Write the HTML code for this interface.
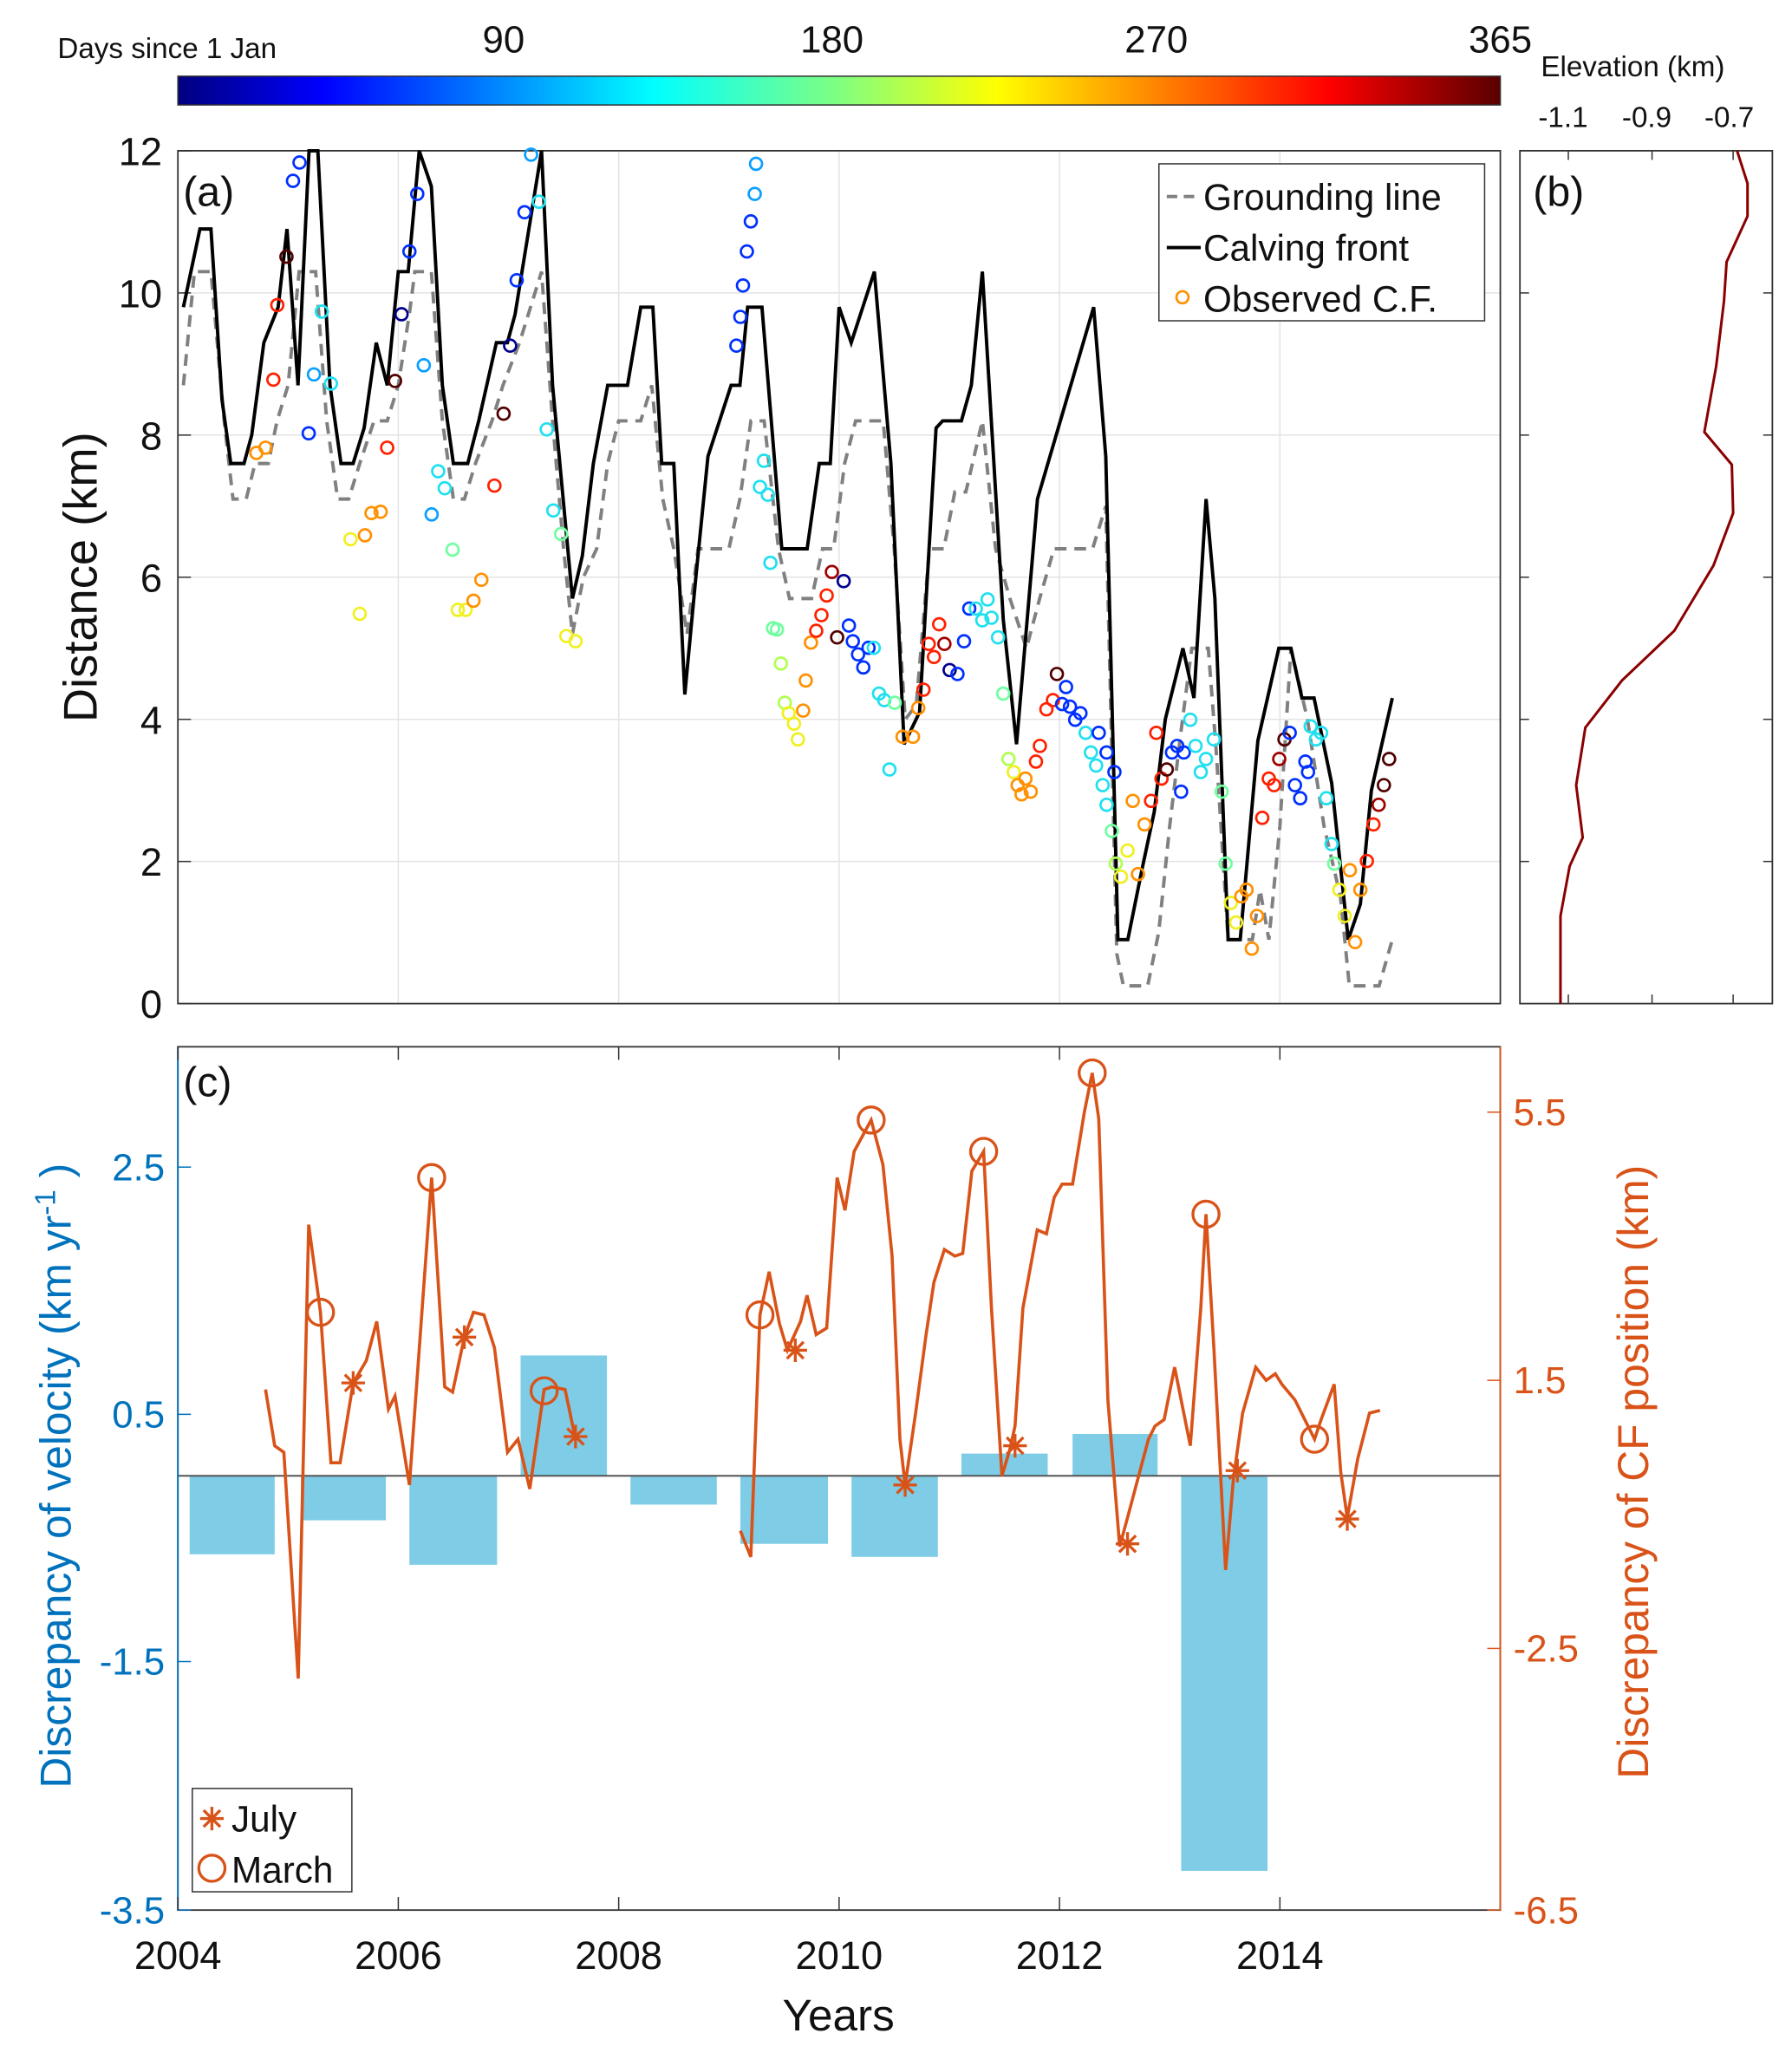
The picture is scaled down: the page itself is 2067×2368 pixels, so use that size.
<!DOCTYPE html>
<html><head><meta charset="utf-8"><style>
html,body{margin:0;padding:0;background:#fff;}
svg{display:block;font-family:"Liberation Sans",Arial,sans-serif;}
</style></head><body>
<svg id="s" width="2067" height="2368" viewBox="0 0 1370 1569" xmlns="http://www.w3.org/2000/svg">
<defs>
<linearGradient id="jet" x1="0" x2="1" y1="0" y2="0">
<stop offset="0" stop-color="#00007f"/><stop offset="0.11" stop-color="#0000ff"/>
<stop offset="0.36" stop-color="#00ffff"/><stop offset="0.5" stop-color="#80ff80"/>
<stop offset="0.62" stop-color="#ffff00"/><stop offset="0.87" stop-color="#ff0000"/>
<stop offset="1" stop-color="#5a0000"/></linearGradient>
</defs>
<rect width="1370" height="1569" fill="#fff"/>
<!-- colorbar -->
<rect x="136" y="58" width="1011" height="22" fill="url(#jet)" stroke="#333" stroke-width="1"/>
<g font-size="29" fill="#111" text-anchor="middle">
<text x="385" y="40">90</text><text x="636" y="40">180</text><text x="884" y="40">270</text><text x="1147" y="40">365</text></g>
<text x="44" y="44" font-size="22" fill="#111">Days since 1 Jan</text>
<text x="1178" y="58" font-size="22" fill="#111">Elevation (km)</text>
<g font-size="22" fill="#111" text-anchor="middle"><text x="1195" y="97">-1.1</text><text x="1259" y="97">-0.9</text><text x="1322" y="97">-0.7</text></g>
<g id="ga"></g>
<g id="gc"></g>
</svg>
<script>
const NS="http://www.w3.org/2000/svg",S=document.getElementById('s');
function el(t,a,p,txt){const e=document.createElementNS(NS,t);for(const k in a)e.setAttribute(k,a[k]);if(txt!==undefined)e.textContent=txt;(p||S).appendChild(e);return e;}
const X=t=>136+(t-2004)*84.25, Y=v=>767-54.33*v;
const ga=document.getElementById('ga'),gc=document.getElementById('gc');
// panel a grid
for(let y=2;y<=10;y+=2)el('line',{x1:136,x2:1147,y1:Y(y),y2:Y(y),stroke:'#e3e3e3','stroke-width':1},ga);
for(let t=2006;t<=2014;t+=2)el('line',{x1:X(t),x2:X(t),y1:115,y2:767,stroke:'#e3e3e3','stroke-width':1},ga);
el('rect',{x:136,y:115,width:1011,height:652,fill:'none',stroke:'#333','stroke-width':1.2},ga);
for(let y=0;y<=12;y+=2){el('text',{x:124,y:Y(y)+11,'font-size':30,'text-anchor':'end',fill:'#111'},ga,String(y));
 el('line',{x1:136,x2:146,y1:Y(y),y2:Y(y),stroke:'#333'},ga);}
el('text',{transform:'translate(74,441) rotate(-90)','font-size':36,'text-anchor':'middle',fill:'#111'},ga,'Distance (km)');
el('text',{x:140,y:157,'font-size':32,fill:'#111'},ga,'(a)');
// grounding line
const gl=[[2004.05,8.7],[2004.15,10.3],[2004.3,10.3],[2004.42,8.2],[2004.5,7.1],[2004.62,7.1],[2004.7,7.6],[2004.82,7.6],[2004.9,8.2],[2005.0,8.7],[2005.1,10.3],[2005.25,10.3],[2005.35,8.2],[2005.45,7.1],[2005.55,7.1],[2005.65,7.6],[2005.78,8.2],[2005.9,8.2],[2006.0,8.7],[2006.1,9.7],[2006.15,10.3],[2006.3,10.3],[2006.4,8.2],[2006.5,7.1],[2006.6,7.1],[2006.7,7.6],[2006.85,8.2],[2006.95,8.7],[2007.1,9.3],[2007.3,10.3],[2007.4,8.2],[2007.5,6.4],[2007.58,5.2],[2007.68,6.0],[2007.8,6.4],[2007.9,7.6],[2008.0,8.2],[2008.2,8.2],[2008.3,8.7],[2008.4,7.1],[2008.5,6.4],[2008.62,5.2],[2008.72,6.4],[2009.0,6.4],[2009.1,7.1],[2009.2,8.2],[2009.32,8.2],[2009.45,6.4],[2009.55,5.7],[2009.75,5.7],[2009.85,6.4],[2009.95,6.4],[2010.05,7.6],[2010.15,8.2],[2010.4,8.2],[2010.5,6.4],[2010.6,4.0],[2010.7,4.2],[2010.82,6.4],[2010.95,6.4],[2011.05,7.2],[2011.15,7.2],[2011.3,8.2],[2011.42,6.4],[2011.55,5.7],[2011.7,5.0],[2011.82,5.7],[2011.95,6.4],[2012.3,6.4],[2012.42,7.0],[2012.52,0.7],[2012.58,0.25],[2012.8,0.25],[2012.9,1.0],[2013.0,2.5],[2013.1,3.8],[2013.2,5.0],[2013.35,5.0],[2013.42,3.6],[2013.53,0.9],[2013.75,0.9],[2013.82,1.6],[2013.9,0.9],[2014.0,2.5],[2014.1,5.0],[2014.25,4.0],[2014.4,2.5],[2014.55,1.5],[2014.63,0.25],[2014.9,0.25],[2015.02,0.9]];
el('polyline',{points:gl.map(p=>X(p[0])+','+Y(p[1])).join(' '),fill:'none',stroke:'#808080','stroke-width':2.6,'stroke-dasharray':'9,6'},ga);
const cf=[[2004.05,9.8],[2004.2,10.9],[2004.3,10.9],[2004.4,8.5],[2004.48,7.6],[2004.6,7.6],[2004.67,8.0],[2004.78,9.3],[2004.91,9.8],[2004.99,10.9],[2005.09,8.7],[2005.19,12],[2005.27,12],[2005.38,8.7],[2005.48,7.6],[2005.59,7.6],[2005.69,8.1],[2005.8,9.3],[2005.9,8.7],[2006.0,10.3],[2006.09,10.3],[2006.19,12],[2006.3,11.5],[2006.4,8.7],[2006.5,7.6],[2006.63,7.6],[2006.73,8.2],[2006.89,9.3],[2006.99,9.3],[2007.06,9.7],[2007.3,12],[2007.4,8.7],[2007.49,7.2],[2007.58,5.7],[2007.67,6.3],[2007.77,7.6],[2007.9,8.7],[2008.08,8.7],[2008.2,9.8],[2008.31,9.8],[2008.39,7.6],[2008.5,7.6],[2008.6,4.35],[2008.7,6.0],[2008.81,7.7],[2009.02,8.7],[2009.1,8.7],[2009.17,9.8],[2009.3,9.8],[2009.48,6.4],[2009.71,6.4],[2009.82,7.6],[2009.92,7.6],[2010.0,9.8],[2010.11,9.3],[2010.32,10.3],[2010.47,7.6],[2010.59,3.65],[2010.73,4.1],[2010.88,8.1],[2010.94,8.2],[2011.11,8.2],[2011.2,8.7],[2011.3,10.3],[2011.49,5.4],[2011.61,3.65],[2011.8,7.1],[2012.31,9.8],[2012.42,7.7],[2012.53,0.9],[2012.62,0.9],[2012.75,1.9],[2012.86,2.7],[2012.96,4.0],[2013.12,5.0],[2013.22,4.3],[2013.33,7.1],[2013.41,5.7],[2013.53,0.9],[2013.64,0.9],[2013.8,3.7],[2013.99,5.0],[2014.1,5.0],[2014.2,4.3],[2014.31,4.3],[2014.47,3.1],[2014.62,0.9],[2014.73,1.4],[2014.83,3.0],[2015.02,4.3]];
el('polyline',{points:cf.map(p=>X(p[0])+','+Y(p[1])).join(' '),fill:'none',stroke:'#000','stroke-width':2.6},ga);
// observed circles (display coords)
const C={D:'#00008f',B:'#0030ff',b:'#0a9fff',c:'#20e0f0',g:'#70ffa0',l:'#b0ff50',y:'#f0f020',o:'#ff9000',r:'#ff2000',R:'#a00000',K:'#500000'};
const obs="196,346,o 203,342,o 209,290,r 212,233,r 219,196,K 224,138,B 229,124,B 236,331,B 240,286,b 246,238,c 253,293,c 268,412,y 275,469,y 279,409,o 284,392,o 291,391,o 296,342,r 302,291,K 307,240,D 313,192,B 319,148,B 324,279,b 330,393,b 335,360,c 340,373,c 346,420,g 350,466,y 356,466,y 362,459,o 368,443,o 378,371,r 385,316,K 390,264,D 395,214,B 401,162,B 406,118,b 412,154,c 418,328,c 423,390,c 429,408,g 433,486,y 440,490,y 563,264,B 566,242,B 568,218,B 571,192,B 574,169,B 577,148,b 578,125,b 584,352,c 581,372,c 587,378,c 589,430,c 591,480,g 594,481,g 597,507,l 600,537,l 603,545,y 607,553,y 610,565,y 614,543,o 616,520,o 620,491,o 624,482,r 628,470,r 632,455,r 636,437,R 640,487,K 645,444,D 649,478,B 652,490,B 656,500,B 660,510,B 664,495,B 668,495,c 672,530,c 676,535,c 680,588,c 684,537,g 690,563,o 698,563,o 702,541,o 706,527,r 710,492,r 714,502,r 718,477,r 722,492,R 726,512,D 732,515,B 737,490,B 741,465,B 746,465,c 751,474,c 755,458,c 758,472,c 763,487,c 767,530,g 771,580,l 775,590,y 778,600,o 781,607,o 784,595,o 788,605,o 792,582,r 795,570,r 800,542,r 805,535,r 808,515,K 812,538,B 815,525,B 818,540,B 822,550,B 826,545,B 830,560,c 834,575,c 838,585,c 843,600,c 846,615,c 850,635,g 853,660,l 857,670,y 862,650,y 866,612,o 870,668,o 875,630,o 880,612,r 884,560,r 888,595,r 892,588,K 896,575,B 900,570,B 905,575,B 910,550,c 914,570,c 918,590,c 922,580,c 928,565,c 934,605,g 937,660,g 941,690,y 945,705,y 949,685,o 953,680,o 957,725,o 961,700,o 965,625,r 970,595,r 974,600,r 978,580,R 982,565,K 986,560,B 990,600,B 994,610,B 998,582,B 1002,555,c 1006,565,c 1010,560,c 1014,610,c 1018,645,c 1020,660,g 1024,680,y 1028,700,y 1032,665,o 1036,720,o 1040,680,o 1045,658,r 1050,630,r 1054,615,R 1058,600,K 1062,580,K 846,575,B 852,590,B 903,605,B 840,560,B 1000,590,B";
obs.split(' ').forEach(s=>{const [x,y,c]=s.split(',');el('circle',{cx:x,cy:y,r:4.6,fill:'none',stroke:C[c],'stroke-width':1.8},ga);});
// legend a
el('rect',{x:886,y:125,width:249,height:120,fill:'#fff',stroke:'#333','stroke-width':1},ga);
el('line',{x1:892,x2:918,y1:150,y2:150,stroke:'#808080','stroke-width':2.6,'stroke-dasharray':'8,5'},ga);
el('line',{x1:892,x2:918,y1:189,y2:189,stroke:'#000','stroke-width':2.6},ga);
el('circle',{cx:904,cy:227,r:4.6,fill:'none',stroke:'#ff9000','stroke-width':1.8},ga);
[['Grounding line',160],['Calving front',199],['Observed C.F.',238]].forEach(a=>el('text',{x:920,y:a[1],'font-size':28,fill:'#111'},ga,a[0]));
// panel b
el('rect',{x:1162,y:115,width:193,height:652,fill:'#fff',stroke:'#333','stroke-width':1.2},ga);
for(let y=2;y<=10;y+=2){el('line',{x1:1162,x2:1169,y1:Y(y),y2:Y(y),stroke:'#333'},ga);el('line',{x1:1348,x2:1355,y1:Y(y),y2:Y(y),stroke:'#333'},ga);}
[1199,1263,1325].forEach(x=>{el('line',{x1:x,x2:x,y1:115,y2:122,stroke:'#333'},ga);el('line',{x1:x,x2:x,y1:760,y2:767,stroke:'#333'},ga);});
el('polyline',{points:'1193,767 1193,700 1200,662 1210,640 1205,600 1212,556 1240,520 1280,482 1310,432 1325,392 1324,355 1303,330 1312,280 1318,230 1320,200 1336,165 1336,140 1328,115',fill:'none',stroke:'#8b0000','stroke-width':2},ga);
el('text',{x:1172,y:157,'font-size':32,fill:'#111'},ga,'(b)');
// panel c
const bars=[[145,210,1188],[230,295,1162],[313,380,1196],[398,464,1036],[482,548,1150],[566,633,1180],[651,717,1190],[735,801,1111],[820,885,1096],[903,969,1430]];
bars.forEach(b=>{const y0=Math.min(1128,b[2]),h=Math.abs(b[2]-1128);el('rect',{x:b[0],y:y0,width:b[1]-b[0],height:h,fill:'#7ecce6'},gc);});
el('line',{x1:136,x2:1147,y1:1128,y2:1128,stroke:'#555','stroke-width':1.3},gc);
el('rect',{x:136,y:800,width:1011,height:660,fill:'none',stroke:'#333','stroke-width':1.2},gc);
el('line',{x1:1147,x2:1147,y1:800,y2:1460,stroke:'#d95319','stroke-width':1.2},gc);
el('line',{x1:136,x2:136,y1:800,y2:1460,stroke:'#0072bd','stroke-width':1.2},gc);
[[2.5,892],[0.5,1081],[-1.5,1270],[-3.5,1460]].forEach(a=>{el('text',{x:126,y:a[1]+10,'font-size':29,'text-anchor':'end',fill:'#0072bd'},gc,String(a[0]));el('line',{x1:136,x2:146,y1:a[1],y2:a[1],stroke:'#0072bd'},gc);});
[[5.5,850],[1.5,1055],[-2.5,1260],[-6.5,1460]].forEach(a=>{el('text',{x:1157,y:a[1]+10,'font-size':29,fill:'#d95319'},gc,String(a[0]));el('line',{x1:1137,x2:1147,y1:a[1],y2:a[1],stroke:'#d95319'},gc);});
for(let t=2004;t<=2014;t+=2){el('text',{x:X(t),y:1505,'font-size':30,'text-anchor':'middle',fill:'#111'},gc,String(t));el('line',{x1:X(t),x2:X(t),y1:1450,y2:1460,stroke:'#333'},gc);el('line',{x1:X(t),x2:X(t),y1:800,y2:810,stroke:'#333'},gc);}
el('text',{x:641,y:1552,'font-size':34,'text-anchor':'middle',fill:'#111'},gc,'Years');
const yl=el('text',{transform:'translate(54,1128) rotate(-90)','font-size':33,'text-anchor':'middle',fill:'#0072bd'},gc);
yl.innerHTML='Discrepancy of velocity (km yr<tspan dy="-12" font-size="22">-1</tspan><tspan dy="12"> )</tspan>';
el('text',{transform:'translate(1260,1125) rotate(-90)','font-size':33,'text-anchor':'middle',fill:'#d95319'},gc,'Discrepancy of CF position (km)');
el('text',{x:140,y:838,'font-size':32,fill:'#111'},gc,'(c)');
const O='#d95319';
const l1="203,1062 210,1105 217,1110 228,1283 236,936 245,1003 253,1118 260,1118 270,1057 280,1040 288,1010 297,1077 302,1067 313,1135 330,900 340,1060 346,1064 355,1022 362,1003 370,1005 378,1030 388,1110 396,1100 405,1138 416,1062 422,1060 432,1062 440,1100";
const l2="566,1170 574,1190 581,1005 588,972 596,1012 602,1032 612,1010 617,990 624,1020 632,1015 640,900 646,925 653,880 666,856 675,890 682,960 688,1100 692,1135 700,1080 708,1020 714,980 722,955 730,960 736,958 743,895 752,880 758,1000 766,1128 772,1108 776,1090 782,1000 793,940 800,943 806,915 812,905 820,905 829,850 835,820 840,855 847,1070 856,1182 862,1160 870,1130 878,1100 883,1090 890,1085 898,1045 905,1080 910,1105 918,1000 922,928 928,1030 937,1200 943,1130 950,1080 960,1045 968,1055 975,1050 980,1058 990,1070 1000,1090 1005,1100 1010,1085 1020,1058 1025,1125 1030,1160 1038,1115 1047,1080 1055,1078";
[l1,l2].forEach(p=>el('polyline',{points:p,fill:'none',stroke:O,'stroke-width':2.4},gc));
[[245,1003],[330,900],[416,1063],[581,1005],[666,856],[752,880],[835,820],[922,928],[1005,1100]].forEach(p=>el('circle',{cx:p[0],cy:p[1],r:10,fill:'none',stroke:O,'stroke-width':2.2},gc));
function star(x,y,p){for(let a=0;a<180;a+=45){const r=a*Math.PI/180,dx=9*Math.cos(r),dy=9*Math.sin(r);el('line',{x1:x-dx,y1:y-dy,x2:x+dx,y2:y+dy,stroke:O,'stroke-width':2.2},p);}}
[[270,1057],[355,1022],[440,1098],[608,1032],[692,1135],[776,1105],[862,1180],[946,1124],[1030,1161]].forEach(p=>star(p[0],p[1],gc));
el('rect',{x:147,y:1367,width:122,height:79,fill:'#fff',stroke:'#333','stroke-width':1},gc);
star(162,1390,gc);el('circle',{cx:162,cy:1428,r:10,fill:'none',stroke:O,'stroke-width':2.2},gc);
el('text',{x:177,y:1400,'font-size':28,fill:'#111'},gc,'July');
el('text',{x:177,y:1439,'font-size':28,fill:'#111'},gc,'March');
</script>
</body></html>
